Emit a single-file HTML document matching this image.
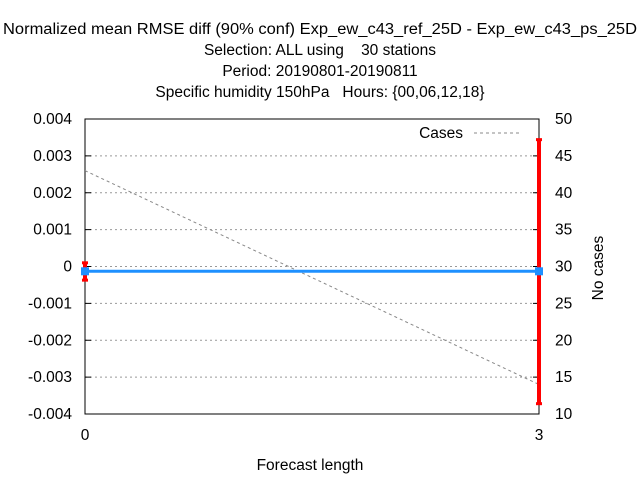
<!DOCTYPE html>
<html><head><meta charset="utf-8"><style>
body{margin:0;background:#fff}
svg text{font-family:"Liberation Sans",sans-serif;font-size:15.5px;fill:#000;white-space:pre}
</style></head><body>
<svg width="640" height="480" xmlns="http://www.w3.org/2000/svg">
<g text-anchor="middle">
<text x="320" y="34" textLength="634" lengthAdjust="spacingAndGlyphs">Normalized mean RMSE diff (90% conf) Exp_ew_c43_ref_25D - Exp_ew_c43_ps_25D</text>
<text x="320" y="55">Selection: ALL using    30 stations</text>
<text x="320" y="76">Period: 20190801-20190811</text>
<text x="320" y="97">Specific humidity 150hPa   Hours: {00,06,12,18}</text>
</g>
<g id="grid"></g>
<g id="axes"></g>
<g id="marks"></g>
<text x="310" y="470" text-anchor="middle">Forecast length</text>
<text transform="translate(603,268) rotate(-90)" text-anchor="middle">No cases</text>
<g>
<text x="463" y="138" text-anchor="end">Cases</text>
<line x1="474" y1="133" x2="520" y2="133" stroke="#888" stroke-dasharray="3,3"/>
</g>
</svg>
<script>
const xCats=[0,3];
const diffVals=[-0.00013,-0.00013];
const ciLow=[-0.00037,-0.00372];
const ciHigh=[0.0001,0.00344];
const cases=[43,14];
const yTicks=[-0.004,-0.003,-0.002,-0.001,0,0.001,0.002,0.003,0.004];
const y2Ticks=[10,15,20,25,30,35,40,45,50];
const L=85,R=539,T=119,B=414;
const sx=v=>L+(v-0)/(3-0)*(R-L);
const sy=v=>B-(v+0.004)/0.008*(B-T);
const sy2=v=>B-(v-10)/40*(B-T);
const NS="http://www.w3.org/2000/svg";
function mk(p,t,a){const e=document.createElementNS(NS,t);for(const k in a)e.setAttribute(k,a[k]);document.getElementById(p).appendChild(e);return e;}
yTicks.forEach(v=>{
 const y=sy(v);
 if(v>-0.004&&v<0.004){const g=mk('grid','line',{x1:L,x2:R,y1:y,y2:y,stroke:'#999','stroke-dasharray':'2,3'});
 
 }
 const t=mk('axes','text',{x:L-13,y:y+5,'text-anchor':'end'});t.textContent=v===0?'0':v.toFixed(3);
 
 
 mk('axes','line',{x1:L,x2:L+6,y1:y,y2:y,stroke:'#000'});
});
y2Ticks.forEach(v=>{
 const y=sy2(v);
 const t=mk('axes','text',{x:R+16,y:y+5,'text-anchor':'start'});t.textContent=v;
 
 
 mk('axes','line',{x1:R-6,x2:R,y1:y,y2:y,stroke:'#000'});
});
xCats.forEach(v=>{
 const t=mk('axes','text',{x:sx(v),y:440,'text-anchor':'middle'});t.textContent=v;
 
 
});
const fr=mk('axes','rect',{x:L,y:T,width:R-L,height:B-T,fill:'none',stroke:'#000'});


const cl=mk('marks','polyline',{points:xCats.map((x,i)=>sx(x)+','+sy2(cases[i])).join(' '),fill:'none',stroke:'#888','stroke-dasharray':'3,3'});


xCats.forEach((x,i)=>{
 const e=mk('marks','line',{x1:sx(x),x2:sx(x),y1:sy(ciHigh[i]),y2:sy(ciLow[i]),stroke:'#f00','stroke-width':4});
 
 
 [ciHigh[i],ciLow[i]].forEach(c=>mk('marks','line',{x1:sx(x)-3,x2:sx(x)+3,y1:sy(c),y2:sy(c),stroke:'#f00','stroke-width':3}));
});
const dl=mk('marks','polyline',{points:xCats.map((x,i)=>sx(x)+','+sy(diffVals[i])).join(' '),fill:'none',stroke:'#1e90ff','stroke-width':3});


xCats.forEach((x,i)=>{
 const p=mk('marks','rect',{x:sx(x)-4,y:sy(diffVals[i])-4,width:8,height:8,fill:'#1e90ff'});
 
 
});
</script>
</body></html>
